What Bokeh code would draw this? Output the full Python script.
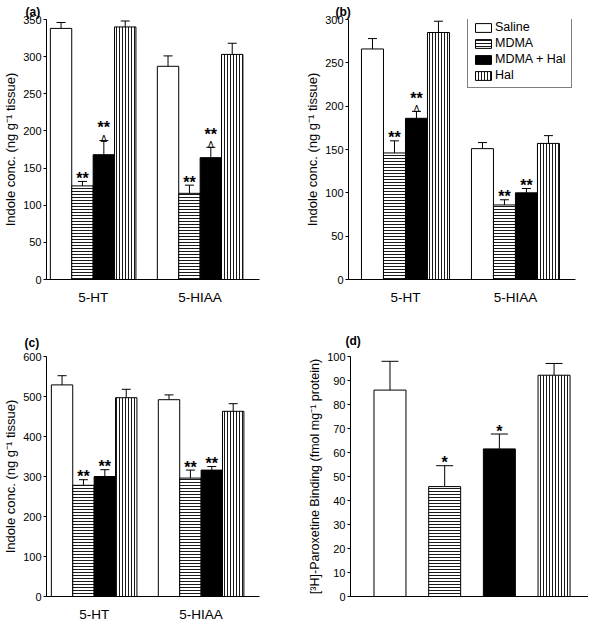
from bokeh.plotting import figure
from bokeh.layouts import row, column
from bokeh.models import (ColumnDataSource, Whisker, TeeHead, FixedTicker,
                          SingleIntervalTicker, Legend, LegendItem, Range1d)
from bokeh.core.properties import value
from bokeh.embed import file_html
from bokeh.resources import INLINE

FONT = "Liberation Sans"

treatments = ["Saline", "MDMA", "MDMA + Hal", "Hal"]
indoles = ["5-HT", "5-HIAA"]

# ---- panel (a) ----  values per treatment (Saline, MDMA, MDMA+Hal, Hal)
a_5ht = [338, 126, 168, 340]
a_5ht_sem = [8, 6, 19, 8]
a_5hiaa = [287, 116, 164, 303]
a_5hiaa_sem = [14, 11, 14, 15]
a_5ht_sig = ["", "**", "**", ""]
a_5ht_delta = ["", "", "Δ", ""]
a_5hiaa_sig = ["", "**", "**", ""]
a_5hiaa_delta = ["", "", "Δ", ""]

# ---- panel (b) ----
b_5ht = [266, 146, 186, 285]
b_5ht_sem = [12, 14, 8, 13]
b_5hiaa = [151, 86, 100, 157]
b_5hiaa_sem = [7, 6, 5, 9]
b_5ht_sig = ["", "**", "**", ""]
b_5ht_delta = ["", "", "Δ", ""]
b_5hiaa_sig = ["", "**", "**", ""]
b_5hiaa_delta = ["", "", "", ""]

# ---- panel (c) ----
c_5ht = [529, 278, 300, 497]
c_5ht_sem = [23, 14, 17, 21]
c_5hiaa = [492, 296, 316, 463]
c_5hiaa_sem = [12, 20, 9, 19]
c_5ht_sig = ["", "**", "**", ""]
c_5ht_delta = ["", "", "", ""]
c_5hiaa_sig = ["", "**", "**", ""]
c_5hiaa_delta = ["", "", "", ""]

# ---- panel (d) ----
d_binding = [86, 45.8, 61.5, 92.2]
d_binding_sem = [12, 8.7, 6.2, 4.9]
d_sig = ["", "*", "*", ""]

FILLS = ["white", "white", "black", "white"]
HATCH = [" ", "horizontal_line", " ", "vertical_line"]

STAR_SIZE = "16px"


def base_fig(width, height, mb, xr, ymax, ystep, ylabel, letter, letter_offset, letter_standoff):
    p = figure(width=width, height=height, output_backend="svg",
               toolbar_location=None, x_range=Range1d(*xr),
               y_range=Range1d(0, ymax),
               min_border_left=mb[0], min_border_right=mb[1],
               min_border_top=mb[2], min_border_bottom=mb[3])
    p.title.text = letter
    p.title.align = "left"
    p.title.offset = letter_offset
    p.title.standoff = letter_standoff
    p.title.text_font = FONT
    p.title.text_font_size = "12px"
    p.title.text_font_style = "bold"
    p.title.text_color = "black"
    p.outline_line_color = None
    p.xgrid.visible = False
    p.ygrid.visible = False
    p.background_fill_color = "white"
    p.border_fill_color = "white"
    ya = p.yaxis[0]
    ya.ticker = SingleIntervalTicker(interval=ystep)
    ya.minor_tick_line_color = None
    ya.major_tick_out = 3
    ya.major_tick_in = 0
    ya.major_label_standoff = 1
    ya.major_label_text_font = FONT
    ya.major_label_text_font_size = "11px"
    ya.major_label_text_color = "black"
    ya.axis_label = ylabel
    ya.axis_label_text_font = FONT
    ya.axis_label_text_font_style = "normal"
    ya.axis_label_text_font_size = "13px"
    ya.axis_label_text_color = "black"
    ya.axis_label_standoff = 2
    ya.axis_line_color = "black"
    ya.major_tick_line_color = "black"
    xa = p.xaxis[0]
    xa.axis_line_color = "black"
    xa.major_tick_line_color = None
    xa.minor_tick_line_color = None
    xa.major_label_text_font = FONT
    xa.major_label_text_font_size = "13.5px"
    xa.major_label_text_color = "black"
    xa.major_label_standoff = 4
    return p


def grouped_panel(p, groups_vals, groups_sem, groups_sig, groups_delta, cap):
    renderers = []
    for t in range(len(treatments)):
        xs, tops, uppers = [], [], []
        for g in range(len(groups_vals)):
            xs.append(g * 5 + t + 0.5)
            tops.append(groups_vals[g][t])
            uppers.append(groups_vals[g][t] + groups_sem[g][t])
        src = ColumnDataSource(dict(x=xs, top=tops, upper=uppers))
        r = p.vbar(x="x", top="top", width=1.0, source=src,
                   fill_color=FILLS[t], line_color="black", line_width=1,
                   hatch_pattern=HATCH[t], hatch_color="black",
                   hatch_scale=3, hatch_weight=0.9)
        renderers.append(r)
        p.add_layout(Whisker(source=src, base="x", lower="top", upper="upper",
                             dimension="height", line_color="black", line_width=1,
                             lower_head=None,
                             upper_head=TeeHead(size=cap, line_color="black",
                                                line_width=1)))
    sx, sy, stxt, soff, dx, dy, dtxt = [], [], [], [], [], [], []
    for g in range(len(groups_vals)):
        for t in range(len(treatments)):
            upper = groups_vals[g][t] + groups_sem[g][t]
            xc = g * 5 + t + 0.5
            if groups_delta[g][t]:
                dx.append(xc); dy.append(upper); dtxt.append(groups_delta[g][t])
            if groups_sig[g][t]:
                sx.append(xc); sy.append(upper); stxt.append(groups_sig[g][t])
                soff.append(-13 if groups_delta[g][t] else -3)
    p.text(x=sx, y=sy, text=stxt, y_offset=soff, text_align="center",
           text_baseline="alphabetic", text_font=value(FONT),
           text_font_style="bold", text_font_size=STAR_SIZE, text_color="black")
    if dx:
        p.text(x=dx, y=dy, text=dtxt, y_offset=-2, text_align="center",
               text_baseline="alphabetic", text_font=value("DejaVu Sans"),
               text_font_size="9px", text_color="black")
    p.xaxis[0].ticker = FixedTicker(ticks=[g * 5 + 2 for g in range(len(indoles))])
    p.xaxis[0].major_label_overrides = {g * 5 + 2: indoles[g] for g in range(len(indoles))}
    return renderers


YL = "Indole conc. (ng g⁻¹ tissue)"

# (a)
pa = base_fig(292, 312, (40, 33, 19, 32), (-0.18, 9.775), 350, 50, YL, "(a)", -21, 2)
grouped_panel(pa, [a_5ht, a_5hiaa], [a_5ht_sem, a_5hiaa_sem],
              [a_5ht_sig, a_5hiaa_sig], [a_5ht_delta, a_5hiaa_delta], 9)

# (b)
pb = base_fig(296, 312, (56, 13, 18, 33), (-0.59, 9.73), 300, 50, YL, "(b)", -13, 2)
rb = grouped_panel(pb, [b_5ht, b_5hiaa], [b_5ht_sem, b_5hiaa_sem],
                   [b_5ht_sig, b_5hiaa_sig], [b_5ht_delta, b_5hiaa_delta], 9)
leg = Legend(items=[LegendItem(label=treatments[i], renderers=[rb[i]]) for i in range(4)],
             location=(119, 191))
leg.border_line_color = "black"
leg.border_line_width = 1
leg.background_fill_color = "white"
leg.background_fill_alpha = 1
leg.label_text_font = FONT
leg.label_text_font_size = "12.5px"
leg.label_text_color = "black"
leg.glyph_width = 20
leg.glyph_height = 11
leg.label_height = 14
leg.label_standoff = 2
leg.spacing = 2
leg.padding = 5
leg.margin = 0
pb.add_layout(leg)

# (c)
pc = base_fig(292, 312, (40, 33, 41, 20), (-0.227, 9.73), 600, 100, YL, "(c)", -22, 14)
grouped_panel(pc, [c_5ht, c_5hiaa], [c_5ht_sem, c_5hiaa_sem],
              [c_5ht_sig, c_5hiaa_sig], [c_5ht_delta, c_5hiaa_delta], 9)

# (d)
pd_ = base_fig(296, 312, (58, 0, 44, 7), (0.278, 4.63), 100, 10,
               "[³H]-Paroxetine Binding (fmol mg⁻¹ protein)", "(d)", -5, 17)
for t in range(len(treatments)):
    src = ColumnDataSource(dict(x=[t + 1], top=[d_binding[t]],
                                upper=[d_binding[t] + d_binding_sem[t]]))
    pd_.vbar(x="x", top="top", width=0.585, source=src, fill_color=FILLS[t],
             line_color="black", line_width=1, hatch_pattern=HATCH[t],
             hatch_color="black", hatch_scale=3, hatch_weight=0.9)
    pd_.add_layout(Whisker(source=src, base="x", lower="top", upper="upper",
                           dimension="height", line_color="black", line_width=1,
                           lower_head=None,
                           upper_head=TeeHead(size=17, line_color="black", line_width=1)))
sig_x = [t + 1 for t in range(len(treatments)) if d_sig[t]]
sig_y = [d_binding[t] + d_binding_sem[t] for t in range(len(treatments)) if d_sig[t]]
sig_t = [d_sig[t] for t in range(len(treatments)) if d_sig[t]]
pd_.text(x=sig_x, y=sig_y, text=sig_t, y_offset=-3, text_align="center",
         text_baseline="alphabetic", text_font=value(FONT), text_font_style="bold",
         text_font_size=STAR_SIZE, text_color="black")
pd_.xaxis[0].ticker = FixedTicker(ticks=[])
pd_.xaxis[0].major_label_standoff = 0
pd_.yaxis[0].axis_label_text_font_size = "12.5px"

layout = column(row(pa, pb), row(pc, pd_))
open("out.html", "w").write(file_html(layout, INLINE))
